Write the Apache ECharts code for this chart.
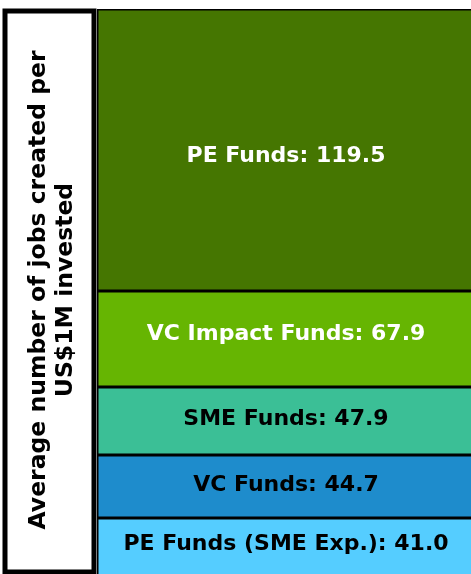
<!DOCTYPE html>
<html>
<head>
<meta charset="utf-8">
<script src="https://cdn.jsdelivr.net/npm/echarts@6/dist/echarts.min.js"></script>
<style>
    html, body { margin: 0; padding: 0; background: #fff; overflow: hidden; }
    /* slightly larger than the window so the bar runs off the right and bottom edges */
    #chart { width: 480px; height: 584px; }
</style>
</head>
<body>
<div id="chart"></div>
<script>
// segments, bottom to top
var fundNames = ['PE Funds (SME Exp.)', 'VC Funds', 'SME Funds', 'VC Impact Funds', 'PE Funds'];
var jobsValues = [41.0, 44.7, 47.9, 67.9, 119.5];
// visual height of each block as drawn in the original (not proportional to the values)
var blockShare = [58, 63, 68, 96, 282];
var blockColors = ['#55cdff', '#1e8ccc', '#3bbf96', '#66b502', '#457601'];
var labelColors = ['#000', '#000', '#000', '#fff', '#fff'];
var labelShift = [-3, -1, -2, -5, 6];

var axisTitle = 'Average number of jobs created per\nUS$1M invested';

var seriesData = [];
fundNames.forEach(function (name, idx) {
    seriesData.push({
        name: name,
        type: 'bar',
        stack: 'jobs',
        barWidth: '100%',
        data: [blockShare[idx]],
        itemStyle: {
            color: blockColors[idx],
            borderColor: '#000',
            borderWidth: 1.5
        },
        label: {
            show: true,
            position: 'inside',
            offset: [0, labelShift[idx]],
            formatter: name + ': ' + jobsValues[idx].toFixed(1),
            color: labelColors[idx],
            fontFamily: 'DejaVu Sans',
            fontWeight: 'bold',
            fontSize: 22
        }
    });
});

var total = 0;
blockShare.forEach(function (v) { total += v; });

var myChart = echarts.init(document.getElementById('chart'));
var option = {
    animation: false,
    grid: { left: 97, right: 5, top: 9, bottom: 8 },
    xAxis: {
        type: 'category',
        data: ['jobs'],
        show: false
    },
    yAxis: {
        type: 'value',
        min: 0,
        max: total,
        show: false
    },
    graphic: [{
        type: 'rect',
        shape: { x: 5, y: 11, width: 89, height: 561 },
        style: { fill: '#fff', stroke: '#000', lineWidth: 5 }
    }, {
        type: 'text',
        x: 52,
        y: 290,
        rotation: Math.PI / 2,
        style: {
            text: axisTitle,
            fill: '#000',
            font: 'bold 23.5px "DejaVu Sans"',
            align: 'center',
            verticalAlign: 'middle',
            lineHeight: 27
        }
    }],
    series: seriesData
};
myChart.setOption(option);
</script>
</body>
</html>
